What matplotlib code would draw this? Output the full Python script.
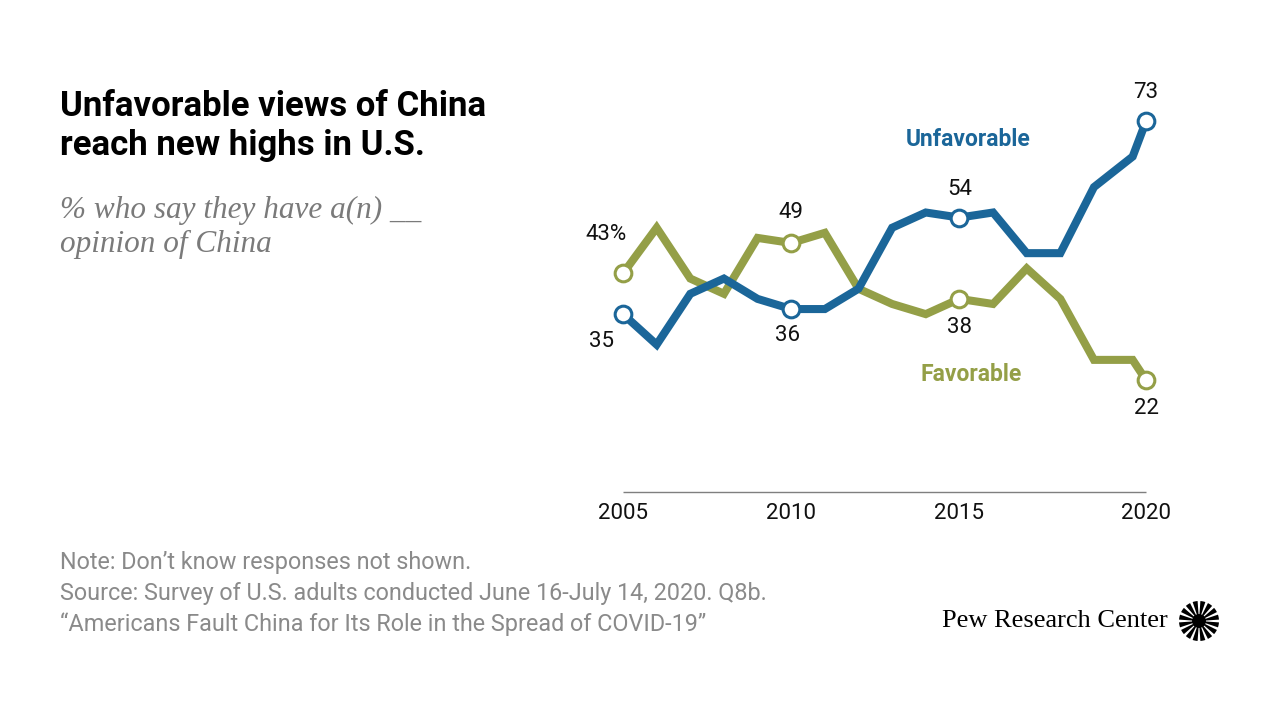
import matplotlib.pyplot as plt
from matplotlib.patches import Wedge, Circle

# survey waves (spring each year, plus March and summer 2020)
years = [2005, 2006, 2007, 2008, 2009, 2010, 2011, 2012, 2013, 2014,
         2015, 2016, 2017, 2018, 2019, 2020.15, 2020.55]
unfavorable = [35, 29, 39, 42, 38, 36, 36, 40, 52, 55, 54, 55, 47, 47, 60, 66, 73]
favorable = [43, 52, 42, 39, 50, 49, 51, 40, 37, 35, 38, 37, 44, 38, 26, 26, 22]
tick_labels = ['2005', '2010', '2015', '2020']
labelled = [0, 5, 10, 16]  # which points get a hollow marker + value

BLUE = '#1b6699'
GREEN = '#949f47'
NOTE = '#8a8a8a'

plt.rcParams['font.family'] = ['Roboto', 'DejaVu Sans']

fig = plt.figure(figsize=(12.8, 7.2), dpi=100)
fig.patch.set_facecolor('white')

ax = fig.add_axes([600 / 1280, 1 - 500 / 720, 570 / 1280, 420 / 720])
ax.set_xlim(2004.316, 2021.26)
ax.set_ylim(-1.57, 81.07)
ax.axis('off')

ax.hlines(0, years[0], years[-1], color='#7f7f7f', lw=1.0)

ax.plot(years, favorable, color=GREEN, lw=5.8, solid_joinstyle='miter', zorder=2)
ax.plot(years, unfavorable, color=BLUE, lw=5.8, solid_joinstyle='miter', zorder=3)

for i in labelled:
    ax.plot(years[i], favorable[i], 'o', ms=12, mfc='white', mec=GREEN, mew=2.2, zorder=4)
    ax.plot(years[i], unfavorable[i], 'o', ms=12, mfc='white', mec=BLUE, mew=2.2, zorder=4)

# value labels
lab = dict(fontsize=16, color='#111111', ha='center', va='center')
ax.text(years[0] - 0.5, favorable[0] + 7.6, '%d%%' % favorable[0], **lab)
ax.text(years[0] - 0.65, unfavorable[0] - 5.4, str(unfavorable[0]), **lab)
ax.text(years[5], favorable[5] + 6, str(favorable[5]), **lab)
ax.text(years[5] - 0.1, unfavorable[5] - 5.2, str(unfavorable[5]), **lab)
ax.text(years[10], unfavorable[10] + 5.6, str(unfavorable[10]), **lab)
ax.text(years[10], favorable[10] - 5.7, str(favorable[10]), **lab)
ax.text(years[16], unfavorable[16] + 5.6, str(unfavorable[16]), **lab)
ax.text(years[16], favorable[16] - 5.6, str(favorable[16]), **lab)

ax.text(2015.25, 69.4, 'Unfavorable', color=BLUE, fontsize=16.5, fontweight='bold',
        ha='center', va='center')
ax.text(2015.35, 23.1, 'Favorable', color=GREEN, fontsize=16.5, fontweight='bold',
        ha='center', va='center')

tick_pos = [2005, 2010, 2015, years[-1]]
for p, t in zip(tick_pos, tick_labels):
    ax.text(p, -2.2, t, fontsize=16, color='#111111', ha='center', va='top')

# title block
fig.text(60 / 1280, 1 - 90 / 720, 'Unfavorable views of China\nreach new highs in U.S.',
         fontsize=25, fontweight='bold', color='black', ha='left', va='top',
         linespacing=1.25)
fig.text(60 / 1280, 1 - 196 / 720, '% who say they have a(n) __\nopinion of China',
         fontsize=22.5, style='italic', color='#7a7a7a', family='Liberation Serif',
         ha='left', va='top', linespacing=1.2)

notes = ['Note: Don\u2019t know responses not shown.',
         'Source: Survey of U.S. adults conducted June 16-July 14, 2020. Q8b.',
         '\u201cAmericans Fault China for Its Role in the Spread of COVID-19\u201d']
for k, line in enumerate(notes):
    fig.text(60 / 1280, 1 - (563 + 30.5 * k) / 720, line, fontsize=16.8, color=NOTE,
             ha='left', va='center')

fig.text(1168 / 1280, 1 - 621 / 720, 'Pew Research Center', fontsize=19,
         family='Liberation Serif', color='black', ha='right', va='center')

# sunburst logo
lax = fig.add_axes([1177 / 1280, 1 - 643 / 720, 44 / 1280, 44 / 720])
lax.set_xlim(-1.1, 1.1)
lax.set_ylim(-1.1, 1.1)
lax.set_aspect('equal')
lax.axis('off')
n = 16
for j in range(n):
    a0 = j * 360 / n + 4
    lax.add_patch(Wedge((0, 0), 1.0, a0, a0 + 360 / n - 8, color='black', lw=0))
lax.add_patch(Circle((0, 0), 0.35, color='black', lw=0))

fig.savefig('out.png', dpi=100)
